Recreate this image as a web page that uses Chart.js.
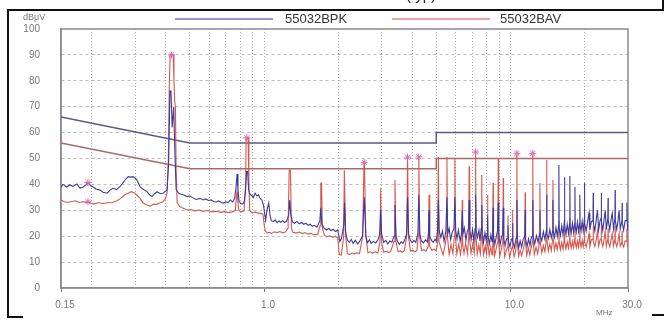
<!DOCTYPE html>
<html lang="en">
<head>
<meta charset="UTF-8">
<title>Conducted emission</title>
<script src="https://cdn.jsdelivr.net/npm/chart.js"></script>
<style>
  body { margin: 0; background: #fff; font-family: Arial, "Liberation Sans", sans-serif; }
  #wrap { position: relative; width: 664px; height: 320px; overflow: hidden; }
  canvas { position: absolute; left: 0; top: 0; }
  .rule { position: absolute; background: #111; }
  .txt { position: absolute; white-space: nowrap; }
  .key { position: absolute; height: 2px; }
</style>
</head>
<body>
<div id="wrap">
  <canvas id="emi" width="664" height="320"></canvas>
  <div class="txt" style="left:406px; top:-14px; font-size:15px; color:#222;">(typ)</div>
  <div class="rule" style="left:8px; top:9px; width:656px; height:2px;"></div>
  <div class="rule" style="left:662px; top:0; width:2px; height:10px;"></div>
  <div class="rule" style="left:7px; top:9px; width:2px; height:309px;"></div>
  <div class="rule" style="left:7px; top:316px; width:16px; height:2px;"></div>
  <div class="rule" style="left:652px; top:314px; width:12px; height:2px;"></div>
  <div class="txt" style="left:23px; top:12px; font-size:9px; color:#777;">dBμV</div>
  <div class="txt" style="left:596px; top:308px; font-size:8px; color:#777;">MHz</div>
  <div id="keys"></div>
</div>

<script>
  // legend names
  const seriesNames = ['55032BPK', '55032BAV'];

  // x grid (MHz) and labelled ticks
  const gridFreqs = [0.15, 0.2, 0.3, 0.4, 0.5, 0.6, 0.7, 0.8, 0.9, 1, 2, 3, 4, 5, 6, 7, 8, 9, 10, 20, 30];
  const tickLabels = { 0.15: '0.15', 1: '1.0', 10: '10.0', 30: '30.0' };

  // limit lines [MHz, dBuV]
  const qpLimit = [[0.15, 66], [0.5, 56], [5, 56], [5, 60], [30, 60]];
  const avLimit = [[0.15, 56], [0.5, 46], [5, 46], [5, 50], [30, 50]];

  // peak scan (blue) [MHz, dBuV]
  const pkTrace = [
    [0.150,39.0],[0.153,40.0],[0.158,39.0],[0.163,39.8],[0.168,39.2],[0.174,40.2],[0.179,38.6],[0.184,38.9],[0.189,39.8],[0.193,40.7],
    [0.198,39.5],[0.202,39.1],[0.208,38.2],[0.216,37.8],[0.222,37.0],[0.231,36.6],[0.237,37.8],[0.244,38.5],[0.252,38.0],[0.260,39.1],
    [0.267,40.5],[0.273,41.7],[0.281,43.0],[0.288,42.8],[0.294,43.0],[0.300,42.4],[0.305,41.7],[0.314,39.1],[0.322,38.2],[0.335,37.2],
    [0.343,36.0],[0.351,35.3],[0.360,36.4],[0.368,37.2],[0.378,36.5],[0.389,36.6],[0.397,37.3],[0.404,37.8],
    [0.410,48],[0.415,76],[0.419,76],[0.424,62],[0.430,70],[0.435,52],[0.440,38],
    [0.450,36.6],[0.462,36.2],[0.475,35.8],[0.487,35.3],[0.500,35.5],[0.515,34.8],[0.530,34.2],[0.550,34.6],[0.565,34.0],[0.580,34.4],
    [0.595,33.8],[0.610,34.0],[0.625,33.4],[0.640,33.2],[0.655,33.6],[0.670,33.0],[0.685,32.8],[0.700,33.3],[0.715,33.0],[0.730,34.0],
    [0.745,33.2],[0.760,34.5],[0.770,39.0],[0.777,44.0],[0.784,38.0],[0.792,33.5],[0.805,32.6],[0.820,32.4],[0.832,33.5],[0.842,38],
    [0.850,45],[0.858,45],[0.866,38],[0.878,36.0],[0.890,35.8],[0.905,35.0],[0.920,36.6],[0.935,35.5],[0.950,36.0],[0.965,34.6],
    [0.980,34.0],[0.995,32.0],[1.005,29.0],[1.015,26.2],[1.030,30.5],[1.045,32.8],[1.058,28.0],[1.070,26.0],[1.090,25.6],[1.110,26.3],
    [1.130,25.2],[1.150,25.9],[1.170,25.4],[1.190,26.0],[1.210,25.3],[1.235,25.8],[1.258,28],[1.272,34],[1.285,28],[1.305,25.5],
    [1.330,25.0],[1.360,25.7],[1.390,24.8],[1.420,25.3],[1.450,24.6],[1.480,25.0],[1.510,24.2],[1.540,24.6],[1.570,23.8],[1.600,24.2],
    [1.640,23.5],[1.685,26],[1.700,31],[1.715,25],[1.750,23.2],[1.790,22.4],[1.830,23.0],[1.870,22.2],[1.910,22.6],[1.950,21.8],
    [1.990,22.4],[2.030,18.0],[2.060,19.0],[2.105,24],[2.122,33],[2.140,22],[2.180,18.5],[2.220,17.6],[2.260,18.8],[2.300,17.2],
    [2.350,18.4],[2.400,17.0],[2.450,18.2],[2.510,20],[2.550,35],[2.590,20],[2.630,17.5],[2.680,18.6],[2.720,17.2],[2.780,18.0],
    [2.840,17.4],[2.900,18.6],[2.950,21],[2.975,30],[3.000,21],[3.060,17.6],[3.120,18.4],[3.180,17.0],[3.240,18.2],[3.300,17.6],
    [3.370,20],[3.400,32],[3.430,20],[3.480,18.0],[3.540,16.8],[3.600,17.8],[3.660,17.2],[3.720,18.4],[3.790,21],[3.825,35],
    [3.860,21],[3.920,18.5],[3.990,17.5],[4.060,18.4],[4.130,17.6],[4.210,21],[4.250,36],[4.290,21],[4.350,18.2],[4.430,17.4],
    [4.520,18.6],[4.600,17.8],[4.650,21],[4.675,30],[4.700,20],[4.780,18.4],[4.860,17.6],[4.940,18.8],[5.000,18.0],[5.060,22],
    [5.100,34],[5.140,22],[5.22,19.5],[5.30,22.0],[5.38,18.0],[5.47,22],[5.525,35],[5.57,21],[5.64,23.0],[5.72,18.6],
    [5.80,21.4],[5.90,23],[5.95,35],[6.00,22],[6.07,19.0],[6.15,22.4],[6.25,18.0],[6.33,21],[6.375,30],[6.42,21],
    [6.50,23.2],[6.60,18.4],[6.68,21.8],[6.76,23],[6.80,34],[6.85,22],[6.93,18.8],[7.02,22.6],[7.10,18.0],[7.19,23],
    [7.225,36],[7.26,22],[7.35,19.6],[7.45,22.4],[7.52,18.2],[7.61,23],[7.65,32],[7.69,21],[7.78,17.6],[7.88,21.4],
    [7.98,18.2],[8.04,21],[8.075,28],[8.11,20],[8.22,17.0],[8.33,20.6],[8.42,18],[8.47,22],[8.50,31],[8.54,20],
    [8.64,16.8],[8.76,19.8],[8.86,22],[8.925,33],[8.97,21],[9.08,16.6],[9.20,19.6],[9.30,21],[9.35,31],[9.40,19],
    [9.52,16.4],[9.64,19.0],[9.74,19],[9.775,24],[9.82,18],[9.95,16.0],[10.08,18.6],[10.17,19],[10.20,25],[10.24,18],
    [10.38,15.6],[10.50,18.4],[10.59,20],[10.625,34],[10.67,19],[10.80,15.4],[10.95,18.2],[11.10,15.8],[11.25,18.6],[11.43,20],
    [11.475,30],[11.52,19],[11.68,16.0],[11.85,19.0],[12.00,16.4],[12.15,19.4],[12.28,20],[12.325,34],[12.37,20],[12.55,17.0],
    [12.75,20.2],[12.95,17.6],[13.13,21],[13.175,30],[13.22,20],[13.40,18.2],[13.60,21.8],[13.80,18.8],[13.98,22],[14.025,36],
    [14.07,21],[14.25,19.0],[14.45,22.6],[14.65,19.4],[14.83,22],[14.875,34],[14.92,22],[15.10,19.6],[15.30,23.4],[15.50,20.0],
    [15.68,24],[15.725,47.5],[15.77,23],[15.95,20.2],[16.15,24.0],[16.35,20.4],[16.53,25],[16.575,42.8],[16.62,24],[16.80,20.6],
    [17.00,24.6],[17.20,21.0],[17.38,25],[17.425,43.2],[17.47,24],[17.65,21.2],[17.85,25.0],[18.05,21.4],[18.23,25],[18.275,39],
    [18.32,24],[18.50,21.6],[18.70,25.4],[18.90,21.8],[19.08,25],[19.125,36],[19.17,24],[19.35,22.0],[19.55,25.8],[19.75,22.0],
    [19.93,26],[19.975,40.5],[20.02,25],[20.30,22.0],[20.60,26.0],[20.85,29],[21.00,22.4],[21.30,25.6],[21.63,26],[21.675,36.7],
    [21.72,25],[22.00,22.0],[22.30,26.4],[22.55,30],[22.80,22.4],[23.10,26.0],[23.33,27],[23.375,36.7],[23.42,26],[23.70,22.2],
    [24.00,26.6],[24.25,30],[24.50,22.6],[24.85,27],[24.90,34.7],[24.95,26],[25.30,22.4],[25.60,26.4],[25.90,29],[26.20,22.8],
    [26.55,27],[26.60,37.8],[26.65,26],[27.00,22.6],[27.35,26.2],[27.60,30],[27.90,22.8],[28.35,26],[28.40,32.8],[28.45,25],
    [28.80,22.4],[29.20,26.0],[29.65,26],[29.70,33],[29.80,25],[30.0,22.0]
  ];

  // average scan (red) [MHz, dBuV]
  const avTrace = [
    [0.150,34.0],[0.155,33.3],[0.160,33.0],[0.166,33.4],[0.172,33.7],[0.178,33.0],[0.184,33.3],[0.190,33.0],[0.193,33.3],[0.198,32.7],
    [0.204,32.4],[0.212,32.9],[0.222,32.6],[0.232,32.9],[0.242,33.0],[0.252,33.6],[0.262,34.6],[0.272,36.0],[0.281,36.6],[0.289,37.2],
    [0.297,36.8],[0.305,35.9],[0.314,34.6],[0.322,33.0],[0.335,32.0],[0.345,31.6],[0.355,32.3],[0.365,32.3],[0.378,32.8],[0.389,33.3],
    [0.398,34.5],[0.404,36.5],
    [0.409,50],[0.413,80],[0.416,90],[0.428,90],[0.431,80],[0.434,72],[0.437,70],[0.440,45],[0.444,33],
    [0.455,31.4],[0.470,30.8],[0.487,30.1],[0.505,30.3],[0.525,29.8],[0.545,30.1],[0.565,29.6],[0.590,29.9],[0.615,29.4],[0.640,29.6],
    [0.665,29.2],[0.690,29.5],[0.715,29.1],[0.745,29.4],[0.765,30.0],[0.772,35],[0.777,37],[0.782,34],[0.790,30.0],[0.810,29.4],
    [0.830,29.8],[0.842,40],[0.846,58],[0.862,58],[0.868,40],[0.875,30.0],[0.895,29.0],[0.920,29.3],[0.945,28.9],[0.970,28.8],
    [0.990,28.5],[1.003,24],[1.012,22.0],[1.030,21.2],[1.050,21.5],[1.075,21.1],[1.100,21.7],[1.130,21.4],[1.160,21.8],[1.190,21.3],
    [1.220,21.6],[1.252,23],[1.265,45.5],[1.280,45.5],[1.292,23],[1.310,21.5],[1.350,21.2],[1.390,21.6],[1.430,21.0],[1.470,21.4],
    [1.510,20.8],[1.550,21.1],[1.590,20.6],[1.650,20.7],[1.688,24],[1.700,40.5],[1.712,40.5],[1.725,23],[1.760,20.3],[1.800,19.8],
    [1.850,20.1],[1.900,19.6],[1.950,19.9],[1.990,19.4],[2.020,13.0],[2.060,12.7],[2.105,20],[2.118,45.5],[2.130,45.5],[2.145,20],
    [2.180,13.2],[2.230,13.0],[2.280,13.5],[2.330,13.2],[2.380,13.6],[2.440,13.3],[2.515,20],[2.545,48.5],[2.555,48.5],[2.590,20],
    [2.640,13.6],[2.700,14.0],[2.760,13.5],[2.830,14.0],[2.900,13.6],[2.955,18],[2.975,38.5],[2.995,18],[3.060,13.8],[3.130,14.2],
    [3.200,13.7],[3.270,14.2],[3.370,18],[3.400,41.7],[3.430,18],[3.500,14.0],[3.570,14.4],[3.640,13.8],[3.710,14.4],[3.795,20],
    [3.825,50.5],[3.855,20],[3.930,14.2],[4.010,14.6],[4.090,14.0],[4.170,14.4],[4.225,20],[4.250,50.6],[4.275,20],[4.360,14.4],
    [4.450,14.8],[4.540,14.2],[4.640,16],[4.675,36],[4.705,16],[4.800,14.6],[4.900,15.0],[5.000,14.4],[5.070,18],[5.100,50.6],
    [5.130,18],[5.22,15.5],[5.33,12.8],[5.43,16.5],[5.50,20],[5.525,50.6],[5.55,20],[5.64,13.0],[5.74,16.8],[5.84,13.4],
    [5.92,20],[5.95,49.8],[5.98,20],[6.06,13.2],[6.17,17.0],[6.27,13.0],[6.35,17],[6.375,34],[6.40,17],[6.48,13.4],
    [6.58,17.2],[6.70,13.2],[6.77,20],[6.80,47],[6.83,19],[6.92,13.5],[7.03,17.0],[7.13,13.4],[7.20,20],[7.225,52.5],
    [7.25,20],[7.33,13.0],[7.44,16.6],[7.55,13.2],[7.62,20],[7.65,43.6],[7.68,19],[7.78,12.8],[7.90,16.2],[8.00,13.0],
    [8.05,18],[8.075,36],[8.10,18],[8.20,12.6],[8.32,15.8],[8.43,12.8],[8.48,18],[8.50,40.5],[8.53,18],[8.63,12.4],
    [8.76,15.4],[8.89,18],[8.925,50.2],[8.96,18],[9.05,12.2],[9.18,14.8],[9.32,18],[9.35,42.5],[9.38,18],[9.48,12.0],
    [9.62,14.4],[9.75,16],[9.775,28],[9.80,16],[9.92,11.8],[10.06,14.2],[10.17,16],[10.20,30],[10.23,16],[10.35,12.0],
    [10.50,14.0],[10.59,18],[10.625,52],[10.66,18],[10.80,12.2],[10.95,14.6],[11.10,12.4],[11.28,15.0],[11.44,18],[11.475,37],
    [11.51,18],[11.65,12.6],[11.82,15.4],[11.98,12.8],[12.14,15.6],[12.29,18],[12.325,52],[12.36,18],[12.50,13.0],[12.70,15.8],
    [12.90,13.2],[13.14,18],[13.175,40.5],[13.21,18],[13.40,13.6],[13.60,16.4],[13.80,14.0],[13.99,19],[14.025,49.4],[14.06,19],
    [14.25,14.2],[14.45,17.0],[14.65,14.4],[14.84,19],[14.875,41.7],[14.91,19],[15.10,14.6],[15.30,17.4],[15.50,14.8],[15.69,18],
    [15.725,26],[15.76,18],[15.95,14.8],[16.15,17.6],[16.35,15.0],[16.54,19],[16.575,25],[16.61,18],[16.80,15.2],[17.00,17.8],
    [17.20,15.4],[17.39,19],[17.425,27],[17.46,18],[17.65,15.4],[17.85,18.0],[18.05,15.6],[18.24,19],[18.275,24],[18.31,18],
    [18.50,15.6],[18.70,18.2],[18.90,15.8],[19.09,19],[19.125,25],[19.16,18],[19.35,15.8],[19.55,18.4],[19.75,16.0],[19.94,19],
    [19.975,26],[20.01,18],[20.30,15.8],[20.60,18.6],[20.85,21],[21.00,16.0],[21.30,18.6],[21.64,19],[21.675,24],[21.71,18],
    [22.00,16.0],[22.30,18.8],[22.55,22],[22.80,16.2],[23.10,18.6],[23.34,19],[23.375,25],[23.41,18],[23.70,16.0],[24.00,18.8],
    [24.25,22],[24.50,16.2],[24.86,19],[24.90,23],[24.94,18],[25.30,16.0],[25.60,18.6],[25.90,21],[26.20,16.2],[26.56,19],
    [26.60,24],[26.64,18],[27.00,16.0],[27.35,18.4],[27.60,21],[27.90,16.2],[28.36,18],[28.40,22],[28.44,17],[28.80,15.8],
    [29.20,18.2],[29.66,18],[29.70,23],[29.80,17],[30.0,16.0]
  ];

  // marked peaks
  const pkMarks = [[0.193, 40.7]];
  const avMarks = [[0.193, 33.3], [0.421, 90], [0.852, 58], [2.55, 48.5], [3.825, 50.5], [4.25, 50.6], [7.225, 52.5], [10.625, 52], [12.325, 52]];

  const PK_COLOR = '#3d3a9e';
  const AV_COLOR = '#d4584e';
  const keyColors = ['#9694cc', '#e6a4a4'];

  // html legend
  const keyPos = [[175, 285], [392, 500]];
  const keys = document.getElementById('keys');
  seriesNames.forEach((name, i) => {
    const line = document.createElement('div');
    line.className = 'key';
    line.style.cssText = `left:${keyPos[i][0]}px; top:18px; width:98px; background:${keyColors[i]};`;
    const label = document.createElement('div');
    label.className = 'txt';
    label.style.cssText = `left:${keyPos[i][1]}px; top:11px; font-size:13px; color:#333;`;
    label.textContent = name;
    keys.appendChild(line);
    keys.appendChild(label);
  });

  const xy = arr => arr.map(p => ({ x: p[0], y: p[1] }));

  const frame = {
    id: 'frame',
    beforeDatasetsDraw(chart) {
      const { ctx, chartArea: a } = chart;
      ctx.save();
      ctx.strokeStyle = '#8c8c8c';
      ctx.lineWidth = 1.5;
      ctx.strokeRect(a.left, a.top, a.right - a.left, a.bottom - a.top);
      ctx.restore();
    }
  };

  new Chart(document.getElementById('emi'), {
    type: 'line',
    data: {
      datasets: [
        { label: 'pk marks', data: xy(pkMarks), showLine: false, pointStyle: 'star', pointRadius: 3.5,
          borderColor: '#e066b0', borderWidth: 1, order: 0 },
        { label: 'av marks', data: xy(avMarks), showLine: false, pointStyle: 'star', pointRadius: 3.5,
          borderColor: '#e066b0', borderWidth: 1, order: 0 },
        { label: seriesNames[0], data: xy(pkTrace), borderColor: PK_COLOR, borderWidth: 1.1, pointRadius: 0, order: 1 },
        { label: seriesNames[1], data: xy(avTrace), borderColor: AV_COLOR, borderWidth: 1.1, pointRadius: 0, order: 2 },
        { label: 'QP limit', data: xy(qpLimit), borderColor: '#5a5a86', borderWidth: 1.5, pointRadius: 0, order: 3 },
        { label: 'AV limit', data: xy(avLimit), borderColor: '#a86a66', borderWidth: 1.5, pointRadius: 0, order: 4 }
      ]
    },
    options: {
      responsive: false,
      animation: false,
      parsing: false,
      layout: { padding: { top: 29, right: 36, left: 0, bottom: 0 } },
      plugins: { legend: { display: false }, tooltip: { enabled: false } },
      scales: {
        x: {
          type: 'logarithmic', min: 0.15, max: 30,
          afterBuildTicks: s => { s.ticks = gridFreqs.map(v => ({ value: v })); },
          afterFit: s => { s.height = 32; },
          ticks: {
            autoSkip: false, maxRotation: 0, padding: 7, labelOffset: 4,
            color: '#777', font: { family: 'Arial', size: 10 },
            callback: v => tickLabels[v] || ''
          },
          grid: {
            color: c => (c.tick && (c.tick.value === 0.15 || c.tick.value === 30)) ? 'rgba(0,0,0,0)' : '#a8a8a8',
            tickColor: c => (c.tick && tickLabels[c.tick.value]) ? '#777' : 'rgba(0,0,0,0)',
            tickLength: 4, lineWidth: 1
          },
          border: { color: '#8c8c8c', width: 1.5, dash: [1, 2] }
        },
        y: {
          min: 0, max: 100,
          afterFit: s => { s.width = 61; },
          ticks: { stepSize: 10, padding: 21, color: '#777', font: { family: 'Arial', size: 10 } },
          grid: {
            color: c => (c.tick && (c.tick.value === 0 || c.tick.value === 100)) ? 'rgba(0,0,0,0)' : '#bcbcbc',
            drawTicks: false, lineWidth: 1
          },
          border: { color: '#8c8c8c', width: 1.5, dash: [3, 3] }
        }
      }
    },
    plugins: [frame]
  });
</script>
</body>
</html>
